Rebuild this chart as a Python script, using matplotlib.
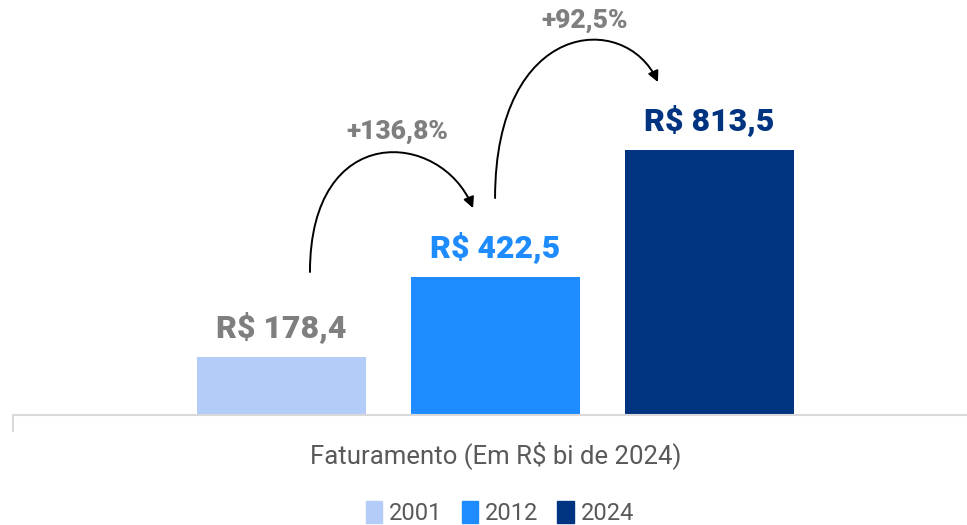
import matplotlib.pyplot as plt
from matplotlib.patches import FancyArrowPatch, Patch
from matplotlib.path import Path

plt.rcParams['font.family'] = ['Roboto', 'DejaVu Sans']

# data
years = ["2001", "2012", "2024"]
revenue = [178.4, 422.5, 813.5]
bar_colors = ["#B4CDF8", "#1E8CFF", "#003380"]
label_colors = ["#7F7F7F", "#1E8CFF", "#003380"]
axis_title = "Faturamento (Em R$ bi de 2024)"


def br(v, fmt="{:.1f}"):
    return fmt.format(v).replace(".", ",")


fig = plt.figure(figsize=(9.67, 5.25), dpi=100)
ax = fig.add_axes([13 / 967, 110 / 525, 954 / 967, 415 / 525])

xs = list(range(len(years)))
ax.bar(xs, revenue, width=0.79, color=bar_colors)

for x, v, c in zip(xs, revenue, label_colors):
    ax.text(x, v + 62, "R$ " + br(v), ha="center", va="baseline",
            fontsize=23, fontweight="heavy", color=c)

# growth arrows between consecutive bars
arrow_paths = [
    [(0.133, 439), (0.133, 906), (0.745, 875), (0.895, 635)],
    [(0.998, 666), (0.998, 1213), (1.605, 1243), (1.759, 1022)],
]
pct_pos = [(0.54, 870), (1.418, 1210)]
for i, pts in enumerate(arrow_paths):
    path = Path(pts, [Path.MOVETO, Path.CURVE4, Path.CURVE4, Path.CURVE4])
    arr = FancyArrowPatch(path=path, arrowstyle="-|>", mutation_scale=16,
                          lw=1.4, color="black", shrinkA=0, shrinkB=0)
    ax.add_patch(arr)
    growth = (revenue[i + 1] / revenue[i] - 1) * 100
    ax.text(pct_pos[i][0], pct_pos[i][1], "+" + br(growth) + "%",
            ha="center", va="center", fontsize=19, fontweight="heavy",
            color="#7F7F7F")

ax.set_xlim(-1.2547, 3.2033)
ax.set_ylim(0, 1274)
for s in ["top", "right", "left"]:
    ax.spines[s].set_visible(False)
ax.spines["bottom"].set_color("#D9D9D9")
ax.spines["bottom"].set_linewidth(1.5)
ax.set_yticks([])
ax.set_xticks([-1.2547])
ax.set_xticklabels([""])
ax.tick_params(axis="x", length=12, width=1.5, color="#D9D9D9")

fig.text(496 / 967, 1 - 455 / 525, axis_title, ha="center", va="center",
         fontsize=18.5, color="#595959")

handles = [Patch(color=c, label=y) for c, y in zip(bar_colors, years)]
fig.legend(handles=handles, loc="center", bbox_to_anchor=(500 / 967, 1 - 513 / 525),
           ncol=3, frameon=False, prop={"size": 17}, labelcolor="#595959",
           handlelength=0.7, handleheight=1.1, handletextpad=0.3, columnspacing=0.8)

fig.savefig("out.png", dpi=100)
